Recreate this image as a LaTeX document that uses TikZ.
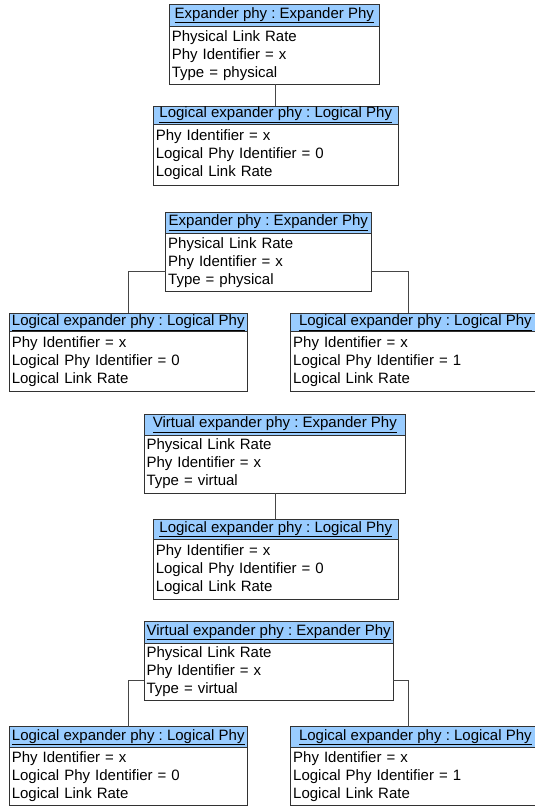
\documentclass[tikz,border=0pt]{standalone}
\usepackage{fontspec}
\setmainfont{Liberation Sans}
\usetikzlibrary{positioning}
\definecolor{headblue}{RGB}{153,204,255}
\definecolor{boxline}{RGB}{50,50,50}
\definecolor{linkline}{RGB}{70,70,70}
\frenchspacing
\begin{document}
\begin{tikzpicture}[x=1pt, y=-1pt,
  header/.style={draw=boxline, fill=headblue, line width=0.9pt, outer sep=0pt, inner sep=0pt,
    anchor=north west, minimum width=#1, font=\fontsize{15pt}{18pt}\selectfont},
  body/.style={draw=boxline, fill=white, line width=0.9pt, outer sep=0pt, inner ysep=0pt, inner xsep=2.5pt,
    text width=#1-5pt, align=left, font=\fontsize{15pt}{18pt}\selectfont},
  link/.style={draw=linkline, line width=0.9pt}]
  \useasboundingbox (0,0) rectangle (535,807);
  % physical phy, one logical phy
  \node [header=210pt, minimum height=22.5pt] (E1h) at (169.3,4) {\underline{Expander phy : Expander Phy}};
  \node [body=210pt, minimum height=57.5pt, below=0pt of E1h] (E1b) {Physical Link Rate\\Phy Identifier = x\\Type = physical};
  \node [header=245pt, minimum height=18pt] (L1h) at (153.3,106) {\underline{Logical expander phy : Logical Phy}};
  \node [body=245pt, minimum height=61pt, below=0pt of L1h] (L1b) {Phy Identifier = x\\Logical Phy Identifier = 0\\Logical Link Rate};
  \draw [link] (E1b.south -| L1h.north) -- (L1h.north);
  % physical phy, two logical phys
  \node [header=205.3pt, minimum height=21pt] (E2h) at (165.7,212.3) {\underline{Expander phy : Expander Phy}};
  \node [body=205.3pt, minimum height=58.4pt, below=0pt of E2h] (E2b) {Physical Link Rate\\Phy Identifier = x\\Type = physical};
  \node [header=238pt, minimum height=18.7pt] (L2ah) at (9.3,313) {\underline{Logical expander phy : Logical Phy}};
  \node [body=238pt, minimum height=60pt, below=0pt of L2ah] (L2ab) {Phy Identifier = x\\Logical Phy Identifier = 0\\Logical Link Rate};
  \node [header=249.3pt, minimum height=18.7pt] (L2bh) at (290.7,313) {\underline{Logical expander phy : Logical Phy}};
  \node [body=249.3pt, minimum height=60pt, below=0pt of L2bh] (L2bb) {Phy Identifier = x\\Logical Phy Identifier = 1\\Logical Link Rate};
  \draw [link] ([yshift=20pt]E2b.south west) -| (L2ah.north);
  \draw [link] ([yshift=20pt]E2b.south east) -| ([xshift=-7pt]L2bh.north);
  % virtual phy, one logical phy
  \node [header=261.7pt, minimum height=21pt] (E3h) at (144,414) {\underline{Virtual expander phy : Expander Phy}};
  \node [body=261.7pt, minimum height=58pt, below=0pt of E3h] (E3b) {Physical Link Rate\\Phy Identifier = x\\Type = virtual};
  \node [header=245pt, minimum height=20pt] (L3h) at (153.3,519.3) {\underline{Logical expander phy : Logical Phy}};
  \node [body=245pt, minimum height=60pt, below=0pt of L3h] (L3b) {Phy Identifier = x\\Logical Phy Identifier = 0\\Logical Link Rate};
  \draw [link] (E3b.south -| L3h.north) -- (L3h.north);
  % virtual phy, two logical phys
  \node [header=249.3pt, minimum height=22.3pt] (E4h) at (144,621) {\underline{Virtual expander phy : Expander Phy}};
  \node [body=249.3pt, minimum height=57.4pt, below=0pt of E4h] (E4b) {Physical Link Rate\\Phy Identifier = x\\Type = virtual};
  \node [header=238pt, minimum height=21pt] (L4ah) at (9.3,726.7) {\underline{Logical expander phy : Logical Phy}};
  \node [body=238pt, minimum height=57.5pt, below=0pt of L4ah] (L4ab) {Phy Identifier = x\\Logical Phy Identifier = 0\\Logical Link Rate};
  \node [header=249.3pt, minimum height=21pt] (L4bh) at (290.7,726.7) {\underline{Logical expander phy : Logical Phy}};
  \node [body=249.3pt, minimum height=57.5pt, below=0pt of L4bh] (L4bb) {Phy Identifier = x\\Logical Phy Identifier = 1\\Logical Link Rate};
  \draw [link] ([yshift=20pt]E4b.south west) -| (L4ah.north);
  \draw [link] ([yshift=20pt]E4b.south east) -| ([xshift=-7pt]L4bh.north);
\end{tikzpicture}
\end{document}
